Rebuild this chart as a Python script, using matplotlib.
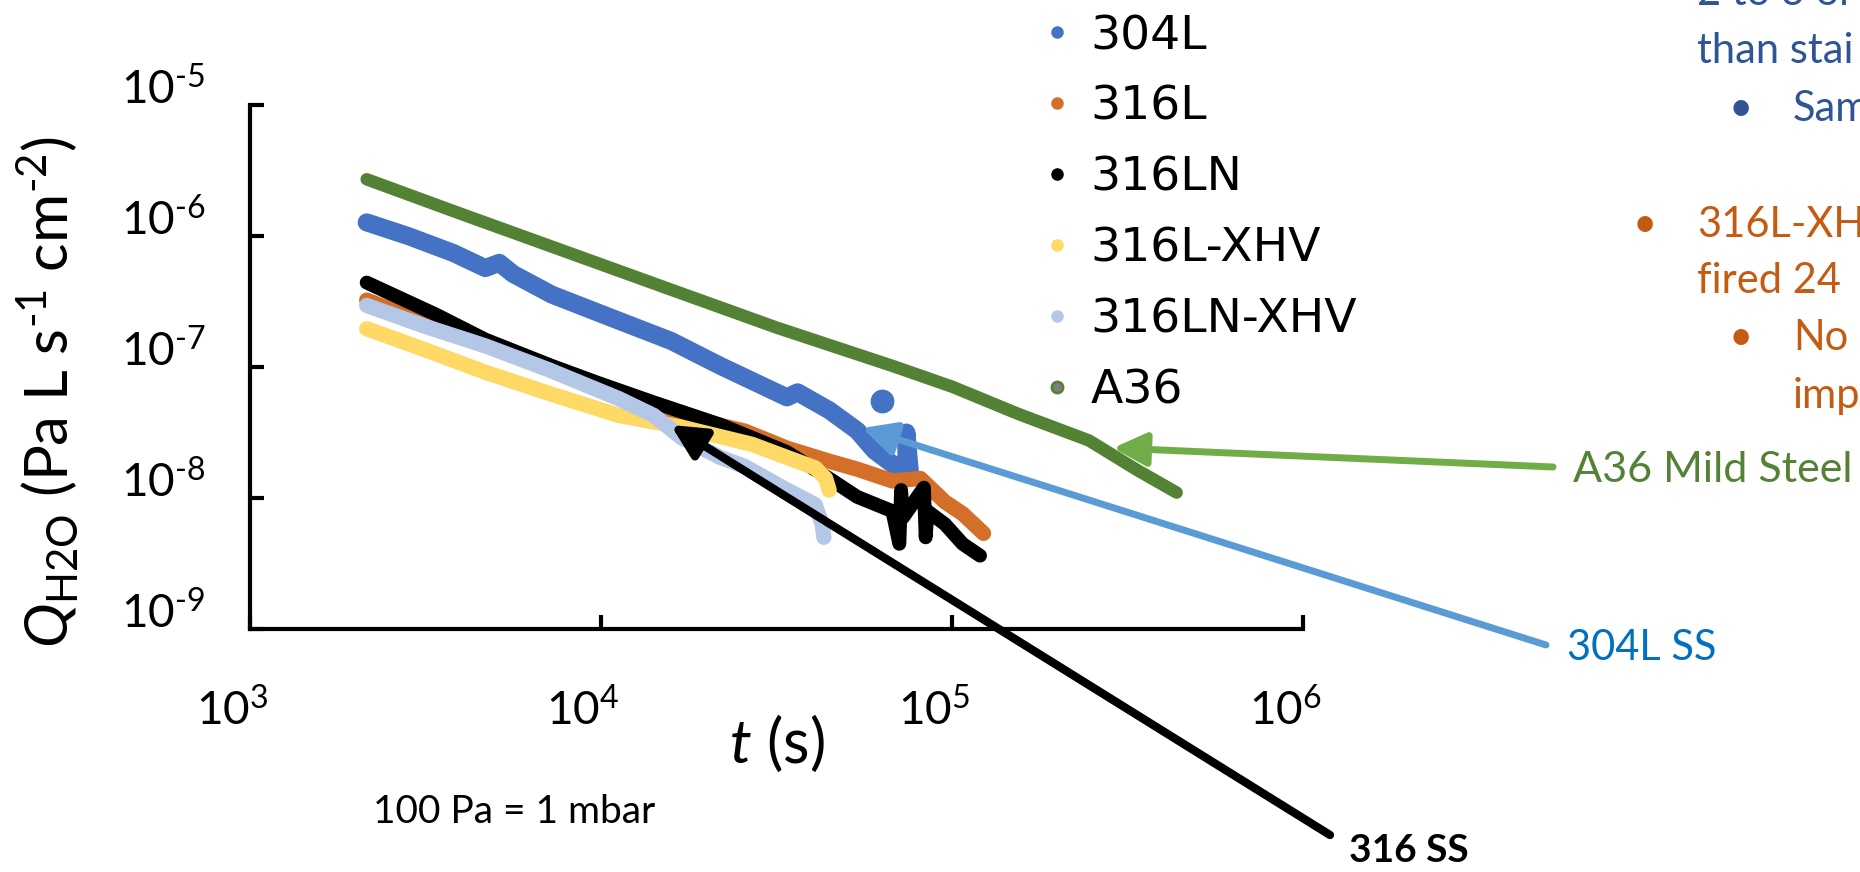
import numpy as np
import matplotlib
matplotlib.use('Agg')
import matplotlib.pyplot as plt
from matplotlib.lines import Line2D
from matplotlib.ticker import NullLocator
from matplotlib.transforms import ScaledTranslation

plt.rcParams['font.family'] = ['Lato', 'DejaVu Sans']
plt.rcParams['mathtext.fontset'] = 'custom'
plt.rcParams['mathtext.rm'] = 'Lato'
plt.rcParams['mathtext.it'] = 'Lato:italic'
plt.rcParams['mathtext.bf'] = 'Lato:bold'

W, H = 1860, 872

# 数据 (t 单位 s, Q 单位 Pa L s^-1 cm^-2)
t_304L = [2150, 2820, 3800, 4680, 5130, 5620, 7240, 11220, 15850, 21880, 33880,
          36310, 44670, 53700, 60260, 67610, 74130, 74130, 75860]
q_304L = [1.27e-6, 1.00e-6, 7.41e-7, 5.69e-7, 6.24e-7, 5.13e-7, 3.57e-7, 2.26e-7,
          1.58e-7, 1.02e-7, 5.86e-8, 6.41e-8, 4.68e-8, 3.27e-8, 2.29e-8, 1.82e-8,
          1.45e-8, 3.16e-8, 1.58e-8]
t_304L_out = [63100]
q_304L_out = [5.5e-8]

t_316L = [2150, 3160, 5010, 7940, 12590, 19950, 25700, 33880, 44670, 53700, 67610,
          81280, 95500, 107200, 123000]
q_316L = [3.24e-7, 2.19e-7, 1.38e-7, 8.91e-8, 5.75e-8, 3.80e-8, 3.24e-8, 2.40e-8,
          1.91e-8, 1.66e-8, 1.35e-8, 1.41e-8, 9.33e-9, 7.59e-9, 5.37e-9]

t_316LN = [2150, 3390, 4680, 7240, 9770, 14130, 21880, 33880, 44670, 53700, 67610,
           70790, 71610, 72440, 83180, 84140, 85110, 95500, 107200, 120200]
q_316LN = [4.41e-7, 2.51e-7, 1.62e-7, 1.02e-7, 7.59e-8, 5.37e-8, 3.63e-8, 2.24e-8,
           1.41e-8, 1.02e-8, 7.94e-9, 4.47e-9, 1.15e-8, 7.08e-9, 1.20e-8, 5.01e-9,
           7.94e-9, 6.31e-9, 4.47e-9, 3.63e-9]

t_316L_XHV = [2150, 3160, 4680, 7080, 11220, 16980, 26920, 33880, 40740, 43650, 44670]
q_316L_XHV = [1.96e-7, 1.35e-7, 9.12e-8, 6.31e-8, 4.27e-8, 3.47e-8, 2.57e-8, 2.04e-8,
              1.70e-8, 1.41e-8, 1.15e-8]

t_316LN_XHV = [2150, 3160, 4680, 7080, 11220, 14130, 16980, 21880, 25700, 33880,
               40740, 42660, 43150]
q_316LN_XHV = [2.95e-7, 2.04e-7, 1.45e-7, 9.55e-8, 5.75e-8, 4.27e-8, 2.88e-8, 2.04e-8,
               1.74e-8, 1.15e-8, 8.91e-9, 6.31e-9, 5.01e-9]

t_A36 = [2150, 3980, 7940, 15850, 31620, 67610, 100000, 154900, 245500, 338800, 436500]
q_A36 = [2.71e-6, 1.48e-6, 7.59e-7, 3.89e-7, 2.00e-7, 1.02e-7, 7.08e-8, 4.37e-8,
         2.75e-8, 1.62e-8, 1.10e-8]

labels = ['304L', '316L', '316LN', '316L-XHV', '316LN-XHV', 'A36']
colors = ['#4472C4', '#D46F2A', '#000000', '#FFD966', '#B4C7E7', '#548235']
widths = [13, 11, 10, 11, 11, 9]
series = [(t_304L, q_304L), (t_316L, q_316L), (t_316LN, q_316LN),
          (t_316L_XHV, q_316L_XHV), (t_316LN_XHV, q_316LN_XHV), (t_A36, q_A36)]

x_ticks = [1e3, 1e4, 1e5, 1e6]
y_ticks = [1e-9, 1e-8, 1e-7, 1e-6, 1e-5]

# 箭头指向的位置 (数据坐标) 和箭尾 (像素, 从左上角算)
arrow_heads = [(287700, 2.41e-8), (55460, 3.42e-8), (15810, 3.61e-8)]
arrow_tails = [(1553, 467), (1546, 645), (1330, 835)]
arrow_colors = ['#70AD47', '#5B9BD5', '#000000']
arrow_widths = [5, 5, 6]


def px(x, y):
    return x / W, 1 - y / H


def pow10(v):
    e = round(np.log10(v))
    if e < 0:
        return r'$10^{\text{-}%d}$' % -e
    return '$10^{%d}$' % e


fig = plt.figure(figsize=(W / 100, H / 100), dpi=100)
ax = fig.add_axes([250 / W, 1 - 629 / H, 1053 / W, 524 / H])

for (t, q), c, lw in zip(series, colors, widths):
    ax.plot(t, q, color=c, lw=lw, solid_capstyle='round', solid_joinstyle='round')
ax.scatter(t_304L_out, q_304L_out, s=260, color=colors[0], zorder=1.5)

ax.set_xscale('log')
ax.set_yscale('log')
ax.set_xlim(1e3, 1e6)
ax.set_ylim(1e-9, 1e-5)
ax.set_xticks(x_ticks, [pow10(v) for v in x_ticks])
ax.set_yticks(y_ticks, [pow10(v) for v in y_ticks])
ax.xaxis.set_minor_locator(NullLocator())
ax.yaxis.set_minor_locator(NullLocator())

for s in ['top', 'right']:
    ax.spines[s].set_visible(False)
for s in ['left', 'bottom']:
    ax.spines[s].set_linewidth(3)
ax.tick_params(direction='in', length=10, width=3, labelsize=33)
ax.tick_params(axis='x', pad=42)
ax.tick_params(axis='y', pad=32)

for lab in ax.get_xticklabels():
    lab.set_transform(lab.get_transform() + ScaledTranslation(-0.18, 0, fig.dpi_scale_trans))
for lab in ax.get_yticklabels():
    lab.set_transform(lab.get_transform() + ScaledTranslation(0, 0.20, fig.dpi_scale_trans))

ax.set_xlabel('$t$ (s)', fontsize=44)
ax.xaxis.label.set_va('center')
ax.xaxis.set_label_coords((777 - 250) / 1053, (629 - 743) / 524)
ax.set_ylabel(r'$Q_{\mathrm{H2O}}$ (Pa L s$^{\text{-}1}$ cm$^{\text{-}2}$)', fontsize=43)
ax.yaxis.label.set_va('center')
ax.yaxis.set_label_coords((48 - 250) / 1053, (629 - 392) / 524)

# 图例
handles = []
for c, lab in zip(colors, labels):
    if lab == 'A36':
        handles.append(Line2D([], [], ls='none', marker='o', ms=8, mfc='#7F7F7F', mec=c, mew=2))
    else:
        handles.append(Line2D([], [], ls='none', marker='o', ms=8, color=c))
fig.legend(handles, labels, loc='upper left', bbox_to_anchor=px(1043, 14), frameon=False,
           prop={'family': 'DejaVu Sans', 'size': 34}, handlelength=0.6,
           handletextpad=0.4, labelspacing=0.55, borderpad=0, borderaxespad=0)

# 箭头
for (hx, hy), (tx, ty), c, lw in zip(arrow_heads, arrow_tails, arrow_colors, arrow_widths):
    ax.annotate('', xy=(hx, hy), xycoords='data', xytext=(tx, H - ty),
                textcoords='figure pixels', annotation_clip=False,
                arrowprops=dict(arrowstyle='-|>,head_length=1.0,head_width=0.5',
                                color=c, lw=lw, shrinkA=0, shrinkB=0, mutation_scale=20))

# 右侧文字
blue_txt = '#2F5597'
orange_txt = '#C55A11'
notes = [('2 to 3 or', 1697, 5, blue_txt, 'left'),
         ('than stai', 1697, 63, blue_txt, 'left'),
         ('•', 1741, 121, blue_txt, 'center'),
         ('Sam', 1793, 121, blue_txt, 'left'),
         ('•', 1645, 237, orange_txt, 'center'),
         ('316L-XH', 1697, 237, orange_txt, 'left'),
         ('fired 24', 1697, 293, orange_txt, 'left'),
         ('•', 1741, 350, orange_txt, 'center'),
         ('No', 1793, 350, orange_txt, 'left'),
         ('imp', 1793, 408, orange_txt, 'left')]
for s, x, y, c, ha in notes:
    fig.text(*px(x, y), s, color=c, fontsize=30, ha=ha, va='baseline')

fig.text(*px(1573, 482), 'A36 Mild Steel', color='#548235', fontsize=31, va='baseline')
fig.text(*px(1567, 660), '304L SS', color='#0070C0', fontsize=30, va='baseline')
fig.text(*px(1349, 862), '316 SS', color='black', fontsize=28, fontweight='bold', va='baseline')
fig.text(*px(373, 823), '100 Pa = 1 mbar', color='black', fontsize=28, va='baseline')

fig.savefig('out.png', dpi=100)
